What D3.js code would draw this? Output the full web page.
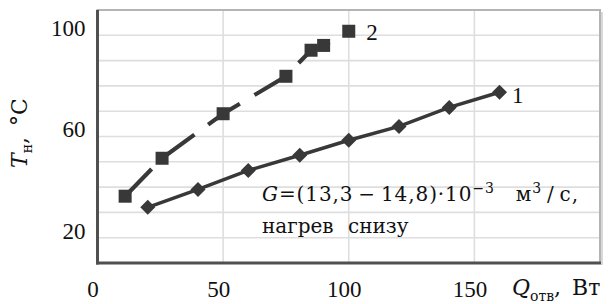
<!DOCTYPE html>
<html><head><meta charset="utf-8">
<script src="https://cdn.jsdelivr.net/npm/d3@7"></script>
<style>body{margin:0;background:#fff}svg{display:block}</style>
</head><body>
<svg id="c" width="614" height="304"></svg>
<script>
const q1 = [20, 40, 60, 80.5, 100, 120, 140, 160];
const t1 = [32.0, 39.1, 46.6, 52.6, 58.5, 64.0, 71.5, 77.5];
const q2 = [11, 25.7, 50, 75, 85, 90, 100];
const t2 = [36.4, 51.4, 69.0, 83.8, 94.1, 96.0, 101.6];
const xTicks = [0, 50, 100, 150];
const yTicks = [20, 60, 100];
const xGrid = [50, 100, 150];
const yGrid = [20, 30, 40, 50, 60, 70, 80, 90, 100];

const svg = d3.select("#c");
const font = "'Liberation Serif','Times New Roman',serif";
const font2 = "'DejaVu Serif','Liberation Serif',serif";
const x = d3.scaleLinear().domain([0, 200]).range([97.5, 600]);
const y = d3.scaleLinear().domain([10, 110]).range([263, 10]);

// grid
svg.append("g").selectAll("line").data(yGrid).join("line")
  .attr("x1", x(0)).attr("x2", x(200)).attr("y1", d => y(d)).attr("y2", d => y(d))
  .attr("stroke", "#dedede").attr("stroke-width", 1.6);
svg.append("g").selectAll("line").data(xGrid).join("line")
  .attr("y1", y(10)).attr("y2", y(110)).attr("x1", d => x(d)).attr("x2", d => x(d))
  .attr("stroke", "#dedede").attr("stroke-width", 1.6);

// frame
svg.append("rect").attr("x", x(0)).attr("y", y(110)).attr("width", x(200) - x(0)).attr("height", y(10) - y(110))
  .attr("fill", "none").attr("stroke", "#b4b4b4").attr("stroke-width", 2);
svg.append("line").attr("x1", x(200) + 2).attr("x2", x(200) + 2).attr("y1", y(110) + 2).attr("y2", y(10) + 2)
  .attr("stroke", "#d8d8d8").attr("stroke-width", 2);
svg.append("line").attr("x1", x(0)).attr("x2", x(0)).attr("y1", y(110)).attr("y2", y(10) + 1.5)
  .attr("stroke", "#505050").attr("stroke-width", 3);
svg.append("line").attr("x1", x(0) - 1.5).attr("x2", x(200) + 1).attr("y1", y(10)).attr("y2", y(10))
  .attr("stroke", "#505050").attr("stroke-width", 3);

// axes
const ax = svg.append("g").attr("transform", `translate(0,${y(10)})`)
  .call(d3.axisBottom(x).tickValues(xTicks).tickSize(0).tickPadding(0).tickFormat(d3.format("d")));
ax.select(".domain").remove();
ax.selectAll("text").attr("font-family", font).attr("font-size", 23).attr("fill", "#111")
  .attr("dy", 0).attr("y", 34).attr("dx", -5);

const ay = svg.append("g").attr("transform", `translate(${x(0)},0)`)
  .call(d3.axisLeft(y).tickValues(yTicks).tickSize(0).tickPadding(12).tickFormat(d3.format("d")));
ay.select(".domain").remove();
ay.selectAll("text").attr("font-family", font).attr("font-size", 23).attr("fill", "#111")
  .attr("dy", "0.02em");

// lines
const col = "#383838";
const line = d3.line().x(d => x(d[0])).y(d => y(d[1]));
const s1 = q1.map((q, i) => [q, t1[i]]);
const s2 = q2.map((q, i) => [q, t2[i]]);
svg.append("path").attr("d", line(s1)).attr("fill", "none").attr("stroke", col).attr("stroke-width", 3.5);
svg.append("path").attr("d", line(s2)).attr("fill", "none").attr("stroke", col).attr("stroke-width", 4.2)
  .attr("stroke-dasharray", "38,17");

// markers
svg.append("g").selectAll("path").data(s1).join("path")
  .attr("transform", d => `translate(${x(d[0])},${y(d[1])})`)
  .attr("d", "M0,-7.5L7.5,0L0,7.5L-7.5,0Z").attr("fill", col);
svg.append("g").selectAll("rect").data(s2).join("rect")
  .attr("x", d => x(d[0]) - 6.5).attr("y", d => y(d[1]) - 6.5)
  .attr("width", 13).attr("height", 13).attr("fill", col);

// series labels
svg.append("text").attr("x", x(165)).attr("y", y(76.5) + 8).text("1")
  .attr("font-family", font).attr("font-size", 23).attr("fill", "#111");
svg.append("text").attr("x", x(107)).attr("y", y(101.5) + 8).text("2")
  .attr("font-family", font).attr("font-size", 23).attr("fill", "#111");

// annotation
const l1 = svg.append("text").attr("font-family", font2).attr("font-size", 20).attr("fill", "#111")
  .attr("x", 262).attr("y", 201).attr("textLength", 316).attr("lengthAdjust", "spacing");
l1.append("tspan").attr("font-style", "italic").text("G");
l1.append("tspan").text("=(13,3\u2009\u2212\u200914,8)\u00b710");
l1.append("tspan").attr("font-size", 14).attr("dy", -8).text("\u22123");
l1.append("tspan").attr("dy", 8).text("\u2003м");
l1.append("tspan").attr("font-size", 14).attr("dy", -8).text("3");
l1.append("tspan").attr("dy", 8).text("\u2009/\u2009с,");
svg.append("text").attr("font-family", font2).attr("font-size", 20).attr("fill", "#111")
  .attr("x", 262).attr("y", 233).attr("word-spacing", 8).text("нагрев снизу");

// axis titles
const yt = svg.append("text").attr("transform", "translate(27,168) rotate(-90)")
  .attr("font-family", font2).attr("font-size", 22).attr("fill", "#111");
yt.append("tspan").attr("font-style", "italic").text("T");
yt.append("tspan").attr("font-size", 14).attr("dy", 5).text("н");
yt.append("tspan").attr("dy", -5).text(",\u2002°C");

const xt = svg.append("text").attr("x", 512).attr("y", 295)
  .attr("font-family", font2).attr("font-size", 22).attr("fill", "#111");
xt.append("tspan").attr("font-style", "italic").text("Q");
xt.append("tspan").attr("font-size", 14).attr("dy", 6).text("отв");
xt.append("tspan").attr("dy", -6).text(",\u2002Вт");
</script>
</body></html>
